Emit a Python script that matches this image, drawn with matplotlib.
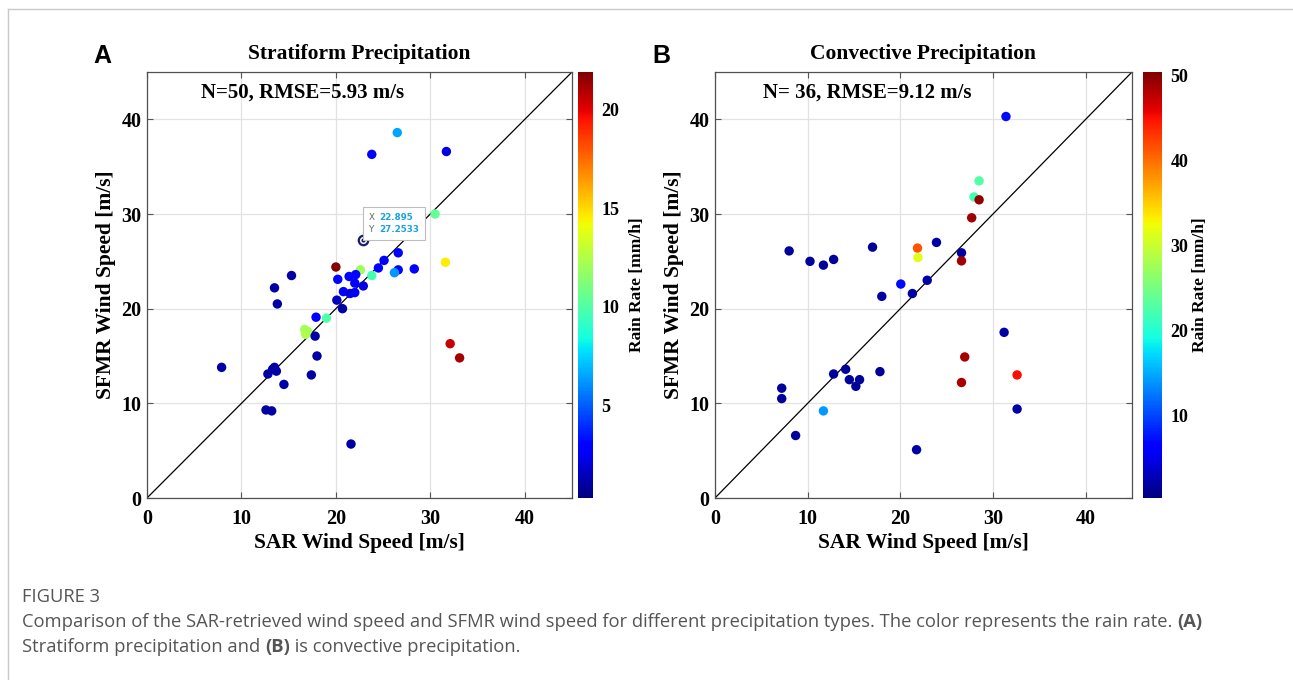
import matplotlib.pyplot as plt
from matplotlib.lines import Line2D
from matplotlib.offsetbox import TextArea, HPacker, AnnotationBbox

# ---- Panel A: stratiform precipitation ----
sar_a = [26.5, 23.8, 31.7, 30.5, 22.895, 20.0, 22.6, 24.5, 25.1, 26.6, 28.3, 26.6,
         26.2, 23.8, 22.1, 21.4, 20.2, 22.0, 22.9, 15.3, 13.5, 31.6, 20.8, 21.5,
         22.0, 20.1, 20.7, 13.8, 17.9, 19.0, 16.7, 17.0, 16.8, 17.8, 18.0, 17.4,
         7.9, 12.8, 13.5, 13.7, 13.3, 14.5, 12.6, 13.2, 21.6, 32.1, 33.1]
sfmr_a = [38.6, 36.3, 36.6, 30.0, 27.2533, 24.4, 24.1, 24.3, 25.1, 25.9, 24.2, 24.1,
          23.8, 23.5, 23.6, 23.4, 23.1, 22.7, 22.4, 23.5, 22.2, 24.9, 21.8, 21.6,
          21.7, 20.9, 20.0, 20.5, 19.1, 19.0, 17.8, 17.6, 17.3, 17.1, 15.0, 13.0,
          13.8, 13.1, 13.8, 13.4, 13.6, 12.0, 9.3, 9.2, 5.7, 16.3, 14.8]
rain_a = [6.5, 3.0, 2.2, 10.5, 0.8, 21.8, 12.0, 3.0, 2.6, 3.0, 3.0, 3.0,
          6.2, 9.6, 3.0, 3.0, 3.0, 3.0, 2.2, 1.0, 1.0, 14.5, 3.0, 2.2,
          2.6, 1.5, 1.0, 1.0, 3.0, 10.0, 12.2, 12.0, 12.4, 1.0, 1.0, 1.0,
          1.0, 1.0, 1.0, 1.0, 1.0, 1.0, 1.0, 1.0, 1.0, 20.5, 21.2]

# ---- Panel B: convective precipitation ----
sar_b = [31.4, 28.5, 27.95, 28.5, 27.7, 21.85, 21.9, 23.9, 26.6, 26.6, 8.0, 10.25,
         11.7, 12.8, 17.0, 20.05, 22.9, 21.3, 18.0, 31.2, 26.95, 32.6, 26.6, 32.6,
         21.75, 17.8, 12.8, 14.1, 14.5, 15.6, 15.2, 7.2, 7.2, 11.7, 8.7]
sfmr_b = [40.3, 33.5, 31.8, 31.5, 29.6, 26.4, 25.4, 27.0, 25.9, 25.05, 26.1, 25.0,
          24.6, 25.2, 26.5, 22.6, 23.0, 21.6, 21.3, 17.5, 14.9, 13.0, 12.2, 9.4,
          5.1, 13.35, 13.1, 13.6, 12.5, 12.5, 11.8, 11.6, 10.5, 9.2, 6.6]
rain_b = [7.0, 23.0, 22.0, 49.5, 49.0, 41.5, 31.5, 2.0, 2.0, 49.0, 1.5, 1.5,
          1.5, 1.5, 1.5, 7.0, 2.0, 2.0, 2.0, 2.0, 48.5, 45.0, 48.5, 2.0,
          2.0, 1.5, 1.5, 1.5, 1.5, 1.5, 1.5, 1.5, 1.5, 14.0, 1.5]

tip_x, tip_y = 22.895, 27.2533

serif = 'Liberation Serif'
plt.rcParams['font.family'] = serif
plt.rcParams['font.weight'] = 'bold'

fig = plt.figure(figsize=(12.93, 6.8), dpi=100)
W, H = 1293.0, 680.0


def fx(px):
    return px / W


def fy(py):
    return 1 - py / H


ax_a = fig.add_axes([fx(147), fy(498), fx(572) - fx(147), fy(72) - fy(498)])
cax_a = fig.add_axes([fx(578), fy(498), fx(15), fy(72) - fy(498)])
ax_b = fig.add_axes([fx(715), fy(498), fx(1132) - fx(715), fy(72) - fy(498)])
cax_b = fig.add_axes([fx(1143), fy(498), fx(19), fy(72) - fy(498)])


def panel(ax, cax, x, y, c, vmin, vmax, title, stats, cticks, cpad):
    ax.plot([0, 45], [0, 45], color='k', lw=0.9, zorder=2)
    sc = ax.scatter(x, y, c=c, cmap='jet', vmin=vmin, vmax=vmax, s=46,
                    edgecolors='none', zorder=3)
    ax.set_xlim(0, 45)
    ax.set_ylim(0, 45)
    ax.set_xticks([0, 10, 20, 30, 40])
    ax.set_yticks([0, 10, 20, 30, 40])
    ax.grid(True, color='#e2e2e2', lw=0.9)
    ax.set_axisbelow(True)
    ax.tick_params(direction='in', top=True, right=True, labelsize=14.5,
                   length=4, width=0.8, color='#555555', pad=4)
    ax.tick_params(axis='x', pad=8)
    for s in ax.spines.values():
        s.set_color('#505050')
        s.set_linewidth(0.9)
    ax.set_xlabel('SAR Wind Speed [m/s]', fontsize=15.5, fontweight='bold', labelpad=3)
    ax.set_ylabel('SFMR Wind Speed [m/s]', fontsize=15.5, fontweight='bold', labelpad=4)
    ax.set_title(title, fontsize=15.5, fontweight='bold', pad=9)
    ax.text(0.365, 0.952, stats, transform=ax.transAxes, ha='center', va='center',
            fontsize=15, fontweight='bold')
    cb = fig.colorbar(sc, cax=cax, ticks=cticks)
    cb.outline.set_visible(False)
    cb.ax.tick_params(length=0, labelsize=13, pad=6)
    cb.set_label('Rain Rate [mm/h]', fontsize=12.5, fontweight='bold', labelpad=cpad)
    return sc


panel(ax_a, cax_a, sar_a, sfmr_a, rain_a, 0.3, 21.9, 'Stratiform Precipitation',
      'N=50, RMSE=5.93 m/s', [5, 10, 15, 20], 7)
panel(ax_b, cax_b, sar_b, sfmr_b, rain_b, 0.3, 50.4, 'Convective Precipitation',
      'N= 36, RMSE=9.12 m/s', [10, 20, 30, 40, 50], 3)

# MATLAB style data tip on panel A
ax_a.scatter([tip_x], [tip_y], s=46, facecolors='white', edgecolors='#1a1a6e',
             linewidths=1.6, zorder=4)
ax_a.scatter([tip_x], [tip_y], s=4, color='#1a1a6e', zorder=5)
tip_lbl = TextArea('X\nY', textprops=dict(family='DejaVu Sans', fontsize=6.3,
                                          fontweight='normal', color='#666666',
                                          linespacing=1.5))
tip_val = TextArea(f'{tip_x}\n{tip_y}',
                   textprops=dict(family='DejaVu Sans', fontsize=6.3, fontweight='bold',
                                  color='#1ba1e2', linespacing=1.5))
tip_box = AnnotationBbox(HPacker(children=[tip_lbl, tip_val], pad=0, sep=3),
                         (tip_x, tip_y), xybox=(4, 4), xycoords='data',
                         boxcoords='offset points', box_alignment=(0, 0), pad=0.4,
                         bboxprops=dict(fc='white', ec='#bdbdbd', lw=0.8), zorder=6)
ax_a.add_artist(tip_box)

# panel letters
fig.text(fx(102), fy(56), 'A', family='Liberation Sans', fontweight='bold',
         fontsize=18, ha='center', va='center')
fig.text(fx(661), fy(56), 'B', family='Liberation Sans', fontweight='bold',
         fontsize=18, ha='center', va='center')

# page frame
fig.add_artist(Line2D([fx(8), 1], [fy(9), fy(9)], color='#c8c8c8', lw=1))
fig.add_artist(Line2D([fx(8), fx(8)], [fy(9), 0], color='#c8c8c8', lw=1))

# caption
cap_font = dict(family='Open Sans', fontsize=13.2, color='#555555', va='center')
fig.text(fx(22), fy(597), 'FIGURE 3', **cap_font, fontweight='normal')


def rich_line(y, parts):
    fig.canvas.draw()
    r = fig.canvas.get_renderer()
    x = fx(22)
    for txt, wt in parts:
        t = fig.text(x, fy(y), txt, fontweight=wt, **cap_font)
        bb = t.get_window_extent(renderer=r)
        x = bb.x1 / W


rich_line(622, [('Comparison of the SAR-retrieved wind speed and SFMR wind speed for '
                 'different precipitation types. The color represents the rain rate. ',
                 'normal'), ('(A)', 'bold')])
rich_line(647, [('Stratiform precipitation and ', 'normal'), ('(B)', 'bold'),
                (' is convective precipitation.', 'normal')])

fig.savefig('out.png', dpi=100)
